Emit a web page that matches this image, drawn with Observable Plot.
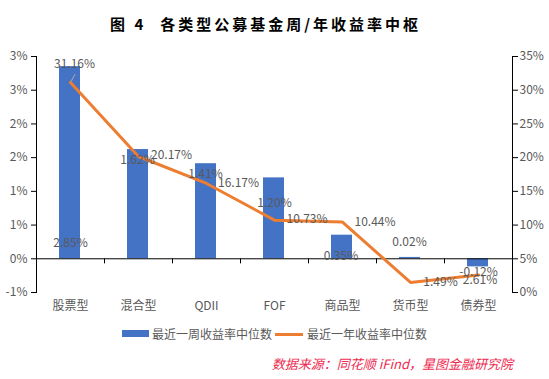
<!DOCTYPE html>
<html><head><meta charset="utf-8">
<script src="https://cdn.jsdelivr.net/npm/d3@7"></script>
<script src="https://cdn.jsdelivr.net/npm/@observablehq/plot@0.6"></script>
<style>
body{margin:0;background:#fff;}
#wrap{position:relative;width:549px;height:379px;overflow:hidden;background:#fff;font-family:"Noto Sans CJK SC","Noto Sans",sans-serif;}
#wrap svg{position:absolute;left:0;top:0;}
#title{position:absolute;left:110px;top:14px;height:19px;line-height:19px;font-size:15px;font-weight:700;letter-spacing:3px;color:#000;white-space:nowrap;}
.lg{position:absolute;font-size:12px;color:#595959;line-height:16px;white-space:nowrap;}
#source{position:absolute;right:36px;top:355px;line-height:18px;font-size:13px;font-style:italic;color:#ee2a4f;white-space:nowrap;}
</style></head>
<body>
<div id="wrap">
  <div id="title">图 4<span style="margin-left:14px">各类型公募基金周/年收益率中枢</span></div>
  <div style="position:absolute;left:122px;top:330px;width:27px;height:7px;background:#4472C4"></div>
  <div class="lg" style="left:152px;top:326px">最近一周收益率中位数</div>
  <div style="position:absolute;left:275px;top:332.5px;width:28px;height:3px;background:#ED7D31"></div>
  <div class="lg" style="left:307px;top:326px">最近一年收益率中位数</div>
  <div id="source">数据来源：同花顺 iFind，星图金融研究院</div>
</div>
<script>
// ---- data ----
const categories = ["股票型","混合型","QDII","FOF","商品型","货币型","债券型"];
const weekly = [2.85, 1.62, 1.41, 1.20, 0.35, 0.02, -0.12];   // 最近一周收益率中位数 (%)
const yearly = [31.16, 20.17, 16.17, 10.73, 10.44, 1.49, 2.61]; // 最近一年收益率中位数 (%)
const leftTicks = [-0.5, 0, 0.5, 1, 1.5, 2, 2.5, 3];
const leftTickLabels = ["-1%","0%","1%","1%","2%","2%","3%","3%"];
const rightTicks = [0, 5, 10, 15, 20, 25, 30, 35];
const rightTickLabels = ["0%","5%","10%","15%","20%","25%","30%","35%"];

// ---- label placement (pixel offsets from each anchor) ----
const barLabelDx = [0, -1, -1, 0, -1.5, -1, 0];
const barLabelDy = [177, 11, 10, 25.5, 21, -15, 5];
const lineLabelDx = [4, 33, 32, 32.5, 32.5, 30, 1.5];
const lineLabelDy = [-18, -1, 0, -1, 0, 0, 5];

const rows = categories.map((c, i) => ({cat: c, week: weekly[i], year: yearly[i], i}));
const fmt = v => v.toFixed(2) + "%";
const FONT = '"Noto Sans CJK SC","Noto Sans",sans-serif';
const W = 549, H = 320;
const common = {
  width: W, height: H, marginTop: 56, marginBottom: 28, marginLeft: 36, marginRight: 37,
  style: {background: "transparent", fontFamily: FONT, fontSize: "12px", color: "#595959", overflow: "visible"}
};
const TXT = "#595959";

// Layer 1: bars + left axis
const p1 = Plot.plot({
  ...common,
  x: {type: "band", domain: categories, paddingInner: 0.69, paddingOuter: 0.345, axis: null},
  y: {domain: [-0.5, 3], axis: null},
  marks: [
    Plot.barY(rows, {x: "cat", y: "week", fill: "#4472C4"}),
    Plot.ruleY([0], {stroke: "#000", strokeWidth: 1}),
    Plot.frame({anchor: "left", stroke: "#000"}),
    Plot.axisY({ticks: leftTicks, tickFormat: d => leftTickLabels[leftTicks.indexOf(d)], label: null,
      tickSize: 5, tickPadding: 4, stroke: "#000", fill: TXT})
  ]
});

// Layer 2: line + right axis + line labels
const p2 = Plot.plot({
  ...common,
  x: {type: "point", domain: categories, padding: 0.5, axis: null},
  y: {domain: [0, 35], axis: null},
  marks: [
    Plot.line(rows, {x: "cat", y: "year", stroke: "#ED7D31", strokeWidth: 3, strokeLinejoin: "round"}),
    Plot.frame({anchor: "right", stroke: "#000"}),
    Plot.axisY({anchor: "right", ticks: rightTicks, tickFormat: d => rightTickLabels[rightTicks.indexOf(d)], label: null,
      tickSize: 5, tickPadding: 2, stroke: "#000", fill: TXT}),
    Plot.vector([rows[0]], {x: "cat", y: "year", length: 9, rotate: 30, anchor: "start",
      stroke: "#a6a6a6", strokeWidth: 1,
      shape: {draw(ctx, l) { ctx.moveTo(0, -1.5); ctx.lineTo(0, -l); }}}),
    ...rows.map((r, i) => Plot.text([r], {x: "cat", y: "year", text: d => fmt(d.year),
      dx: lineLabelDx[i], dy: lineLabelDy[i], fill: TXT, fontSize: 12}))
  ]
});

// Layer 3: bar labels + category axis + boundary ticks
const p3 = Plot.plot({
  ...common,
  x: {type: "point", domain: categories, padding: 0.5, axis: null},
  y: {domain: [-0.5, 3], axis: null},
  marks: [
    Plot.ruleX(categories.slice(0, -1), {x: d => d, y1: 0, y2: -0.075, dx: 34, stroke: "#000"}),
    Plot.axisX({anchor: "bottom", tickSize: 0, tickPadding: 9, fill: TXT, fontSize: 12, label: null}),
    ...rows.map((r, i) => Plot.text([r], {x: "cat", y: "week", text: d => fmt(d.week),
      dx: barLabelDx[i], dy: barLabelDy[i], fill: TXT, fontSize: 12}))
  ]
});

const wrap = document.getElementById("wrap");
const title = document.getElementById("title");
wrap.insertBefore(p1, title);
wrap.insertBefore(p2, title);
wrap.insertBefore(p3, title);
</script>
</body></html>
